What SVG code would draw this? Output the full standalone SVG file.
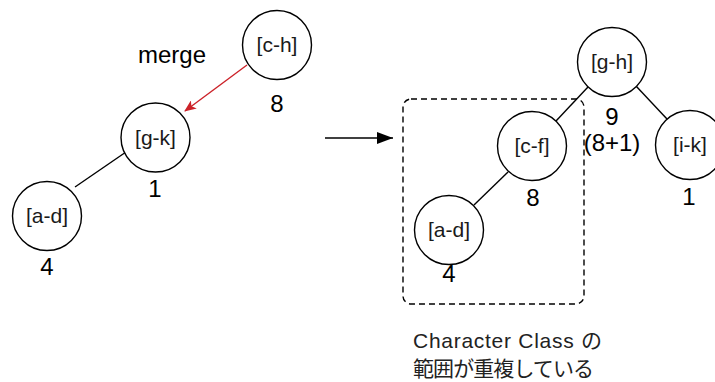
<svg xmlns="http://www.w3.org/2000/svg" width="715" height="382" viewBox="0 0 715 382">
<style>
.node circle{fill:#fff;stroke:#000;stroke-width:1.4}
.lbl{font-family:"Liberation Sans",Arial,sans-serif;font-size:21px;fill:#1a1a1a;text-anchor:middle}
.num{font-family:"Liberation Sans",Arial,sans-serif;font-size:24px;fill:#000;text-anchor:middle}
.txt{font-family:"Liberation Sans","Noto Sans CJK JP",sans-serif;font-size:21px;fill:#222}
.edge{stroke:#000;stroke-width:1.4;fill:none}
</style>
<defs>
<marker id="ahRed" viewBox="0 0 12 10" refX="11" refY="5" markerWidth="12" markerHeight="10" markerUnits="userSpaceOnUse" orient="auto">
<path d="M0,0 L12,5 L0,10 L3,5 Z" fill="#cc2229"/>
</marker>
<marker id="ahBlk" viewBox="0 0 16 12" refX="16" refY="6" markerWidth="16" markerHeight="12" markerUnits="userSpaceOnUse" orient="auto">
<path d="M0,0 L16,6 L0,12 Z" fill="#000"/>
</marker>
</defs>
<g id="connectors">
<line class="edge" x1="75" y1="187" x2="126" y2="152"/>
<line x1="247" y1="65" x2="185" y2="111" stroke="#cc2229" stroke-width="1.4" marker-end="url(#ahRed)"/>
<line class="edge" x1="325" y1="138" x2="393" y2="138" marker-end="url(#ahBlk)"/>
<line class="edge" x1="588" y1="87" x2="556" y2="121"/>
<line class="edge" x1="508" y1="172" x2="474" y2="205"/>
<line class="edge" x1="636" y1="86" x2="667" y2="119"/>
</g>
<g id="group-box">
<rect x="403" y="99" width="181" height="205" rx="8" fill="none" stroke="#000" stroke-width="1.4" stroke-dasharray="6 4"/>
</g>
<g id="node-ch" class="node"><circle cx="277" cy="45" r="34.5"/><text class="lbl" x="277" y="52">[c-h]</text></g>
<g id="node-gk" class="node"><circle cx="155.5" cy="137.5" r="34.5"/><text class="lbl" x="155.5" y="144.5">[g-k]</text></g>
<g id="node-ad1" class="node"><circle cx="47" cy="216" r="34.5"/><text class="lbl" x="47" y="223">[a-d]</text></g>
<g id="node-gh" class="node"><circle cx="612" cy="62" r="34.5"/><text class="lbl" x="612" y="69">[g-h]</text></g>
<g id="node-cf" class="node"><circle cx="532" cy="146" r="34.5"/><text class="lbl" x="532" y="153">[c-f]</text></g>
<g id="node-ad2" class="node"><circle cx="449" cy="230" r="34.5"/><text class="lbl" x="449" y="237">[a-d]</text></g>
<g id="node-ik" class="node"><circle cx="690" cy="145" r="34.5"/><text class="lbl" x="690" y="152">[i-k]</text></g>
<g id="labels">
<text class="num" x="277" y="112">8</text>
<text class="num" x="155" y="197">1</text>
<text class="num" x="47" y="275">4</text>
<text class="num" x="612" y="125">9</text>
<text class="num" x="612" y="151">(8+1)</text>
<text class="num" x="533" y="206">8</text>
<text class="num" x="689" y="205">1</text>
<text class="num" x="449" y="282">4</text>
<text class="num" x="138" y="63" style="text-anchor:start">merge</text>
<text class="txt" x="413" y="348" textLength="189" lengthAdjust="spacing">Character Class の</text>
<text class="txt" x="413" y="376" textLength="181" lengthAdjust="spacing">範囲が重複している</text>
</g>
</svg>
